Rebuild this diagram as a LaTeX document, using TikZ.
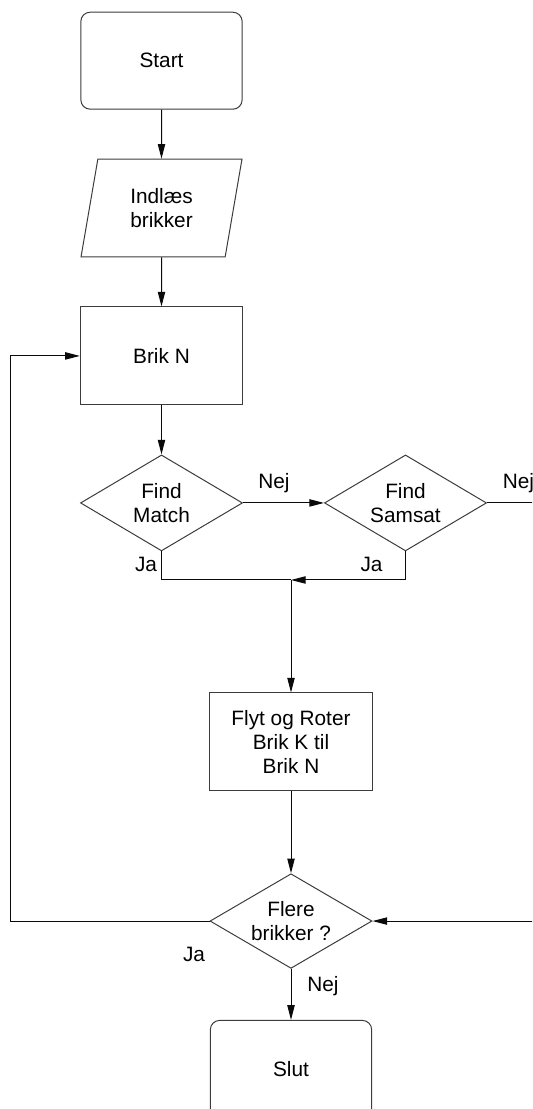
\documentclass[tikz,border=0pt]{standalone}
\usepackage{fontspec}
\setmainfont{Liberation Sans}
\usepackage{tikz}
\usetikzlibrary{
  arrows.meta,
  positioning,
  shapes.geometric,
}
\definecolor{shapeline}{RGB}{60,60,60}
\definecolor{flowcol}{RGB}{10,10,10}
\tikzset{
  flowfont/.style={font=\fontsize{15.6pt}{18.2pt}\selectfont},
  flowshape/.style={
    draw=shapeline, line width=0.75pt, align=center, flowfont
  },
  termbox/.style={flowshape, rectangle, rounded corners=7pt,
    minimum width=121pt, minimum height=72.75pt},
  iobox/.style={flowshape, trapezium, trapezium left angle=79,
    trapezium right angle=101, trapezium stretches=true,
    minimum width=121.5pt, minimum height=73.3pt},
  procbox/.style={flowshape, rectangle,
    minimum width=121.8pt, minimum height=73.5pt},
  decbox/.style={flowshape, diamond, aspect=1.7, inner sep=0pt,
    minimum width=121.5pt, minimum height=72pt},
  flowline/.style={line width=0.75pt, flowcol},
  flowarrow/.style={flowline, -{Triangle[length=11pt,width=5.5pt]}},
  answer/.style={flowfont, inner sep=0pt},
}

\begin{document}
\begin{tikzpicture}[x=0.75pt, y=0.75pt, node distance=36.75pt]

  \clip (0,0) rectangle (532,1109);

  % ── Main column ──
  \node[termbox] (start) at (161.5,1048.3) {Start};
  \node[iobox, below=of start] (indlaes) {Indlæs\\brikker};
  \node[procbox, below=of indlaes] (brikn) {Brik N};

  % ── Decisions ──
  \node[decbox, below=of brikn] (match) {Find\\Match};
  \node[decbox, right=60.75pt of match] (samsat) {Find\\Samsat};
  \coordinate (join) at (291,529);

  % ── Move and loop test ──
  \node[procbox] (flyt) at (291,367) {Flyt og Roter\\Brik K til\\Brik N};
  \node[decbox, minimum height=71pt, below=61.3pt of flyt] (flere) {Flere\\brikker ?};
  \node[termbox, below=38.25pt of flere] (slut) {Slut};

  % ── Loop coordinates ──
  \coordinate (loopL) at (10,0);
  \coordinate (loopR) at (545,0);

  % ── Connector arrows ──
  \draw[flowarrow] (start) -- (indlaes);
  \draw[flowarrow] (indlaes) -- (brikn);
  \draw[flowarrow] (brikn) -- (match);
  \draw[flowarrow] (match.east) -- (samsat.west);
  \draw[flowline] (match.south) |- (join);
  \draw[flowarrow] (samsat.south) |- (join);
  \draw[flowarrow] (join) -- (flyt.north);
  \draw[flowarrow] (flyt) -- (flere);
  \draw[flowarrow] (flere) -- (slut);
  \draw[flowarrow] (flere.west) -- (flere.west -| loopL) |- (brikn.west);
  \draw[flowarrow] (samsat.east) -- (samsat.east -| loopR) |- (flere.east);

  % ── Answer labels ──
  \node[answer] (nejA) at (274,626) {Nej};
  \node[answer, anchor=west] (nejB) at (502.5,626) {Nej};
  \node[answer] (jaA) at (146,545) {Ja};
  \node[answer] (jaB) at (371.5,545) {Ja};
  \node[answer] (jaC) at (194,155) {Ja};
  \node[answer] (nejC) at (323,123) {Nej};

\end{tikzpicture}
\end{document}
